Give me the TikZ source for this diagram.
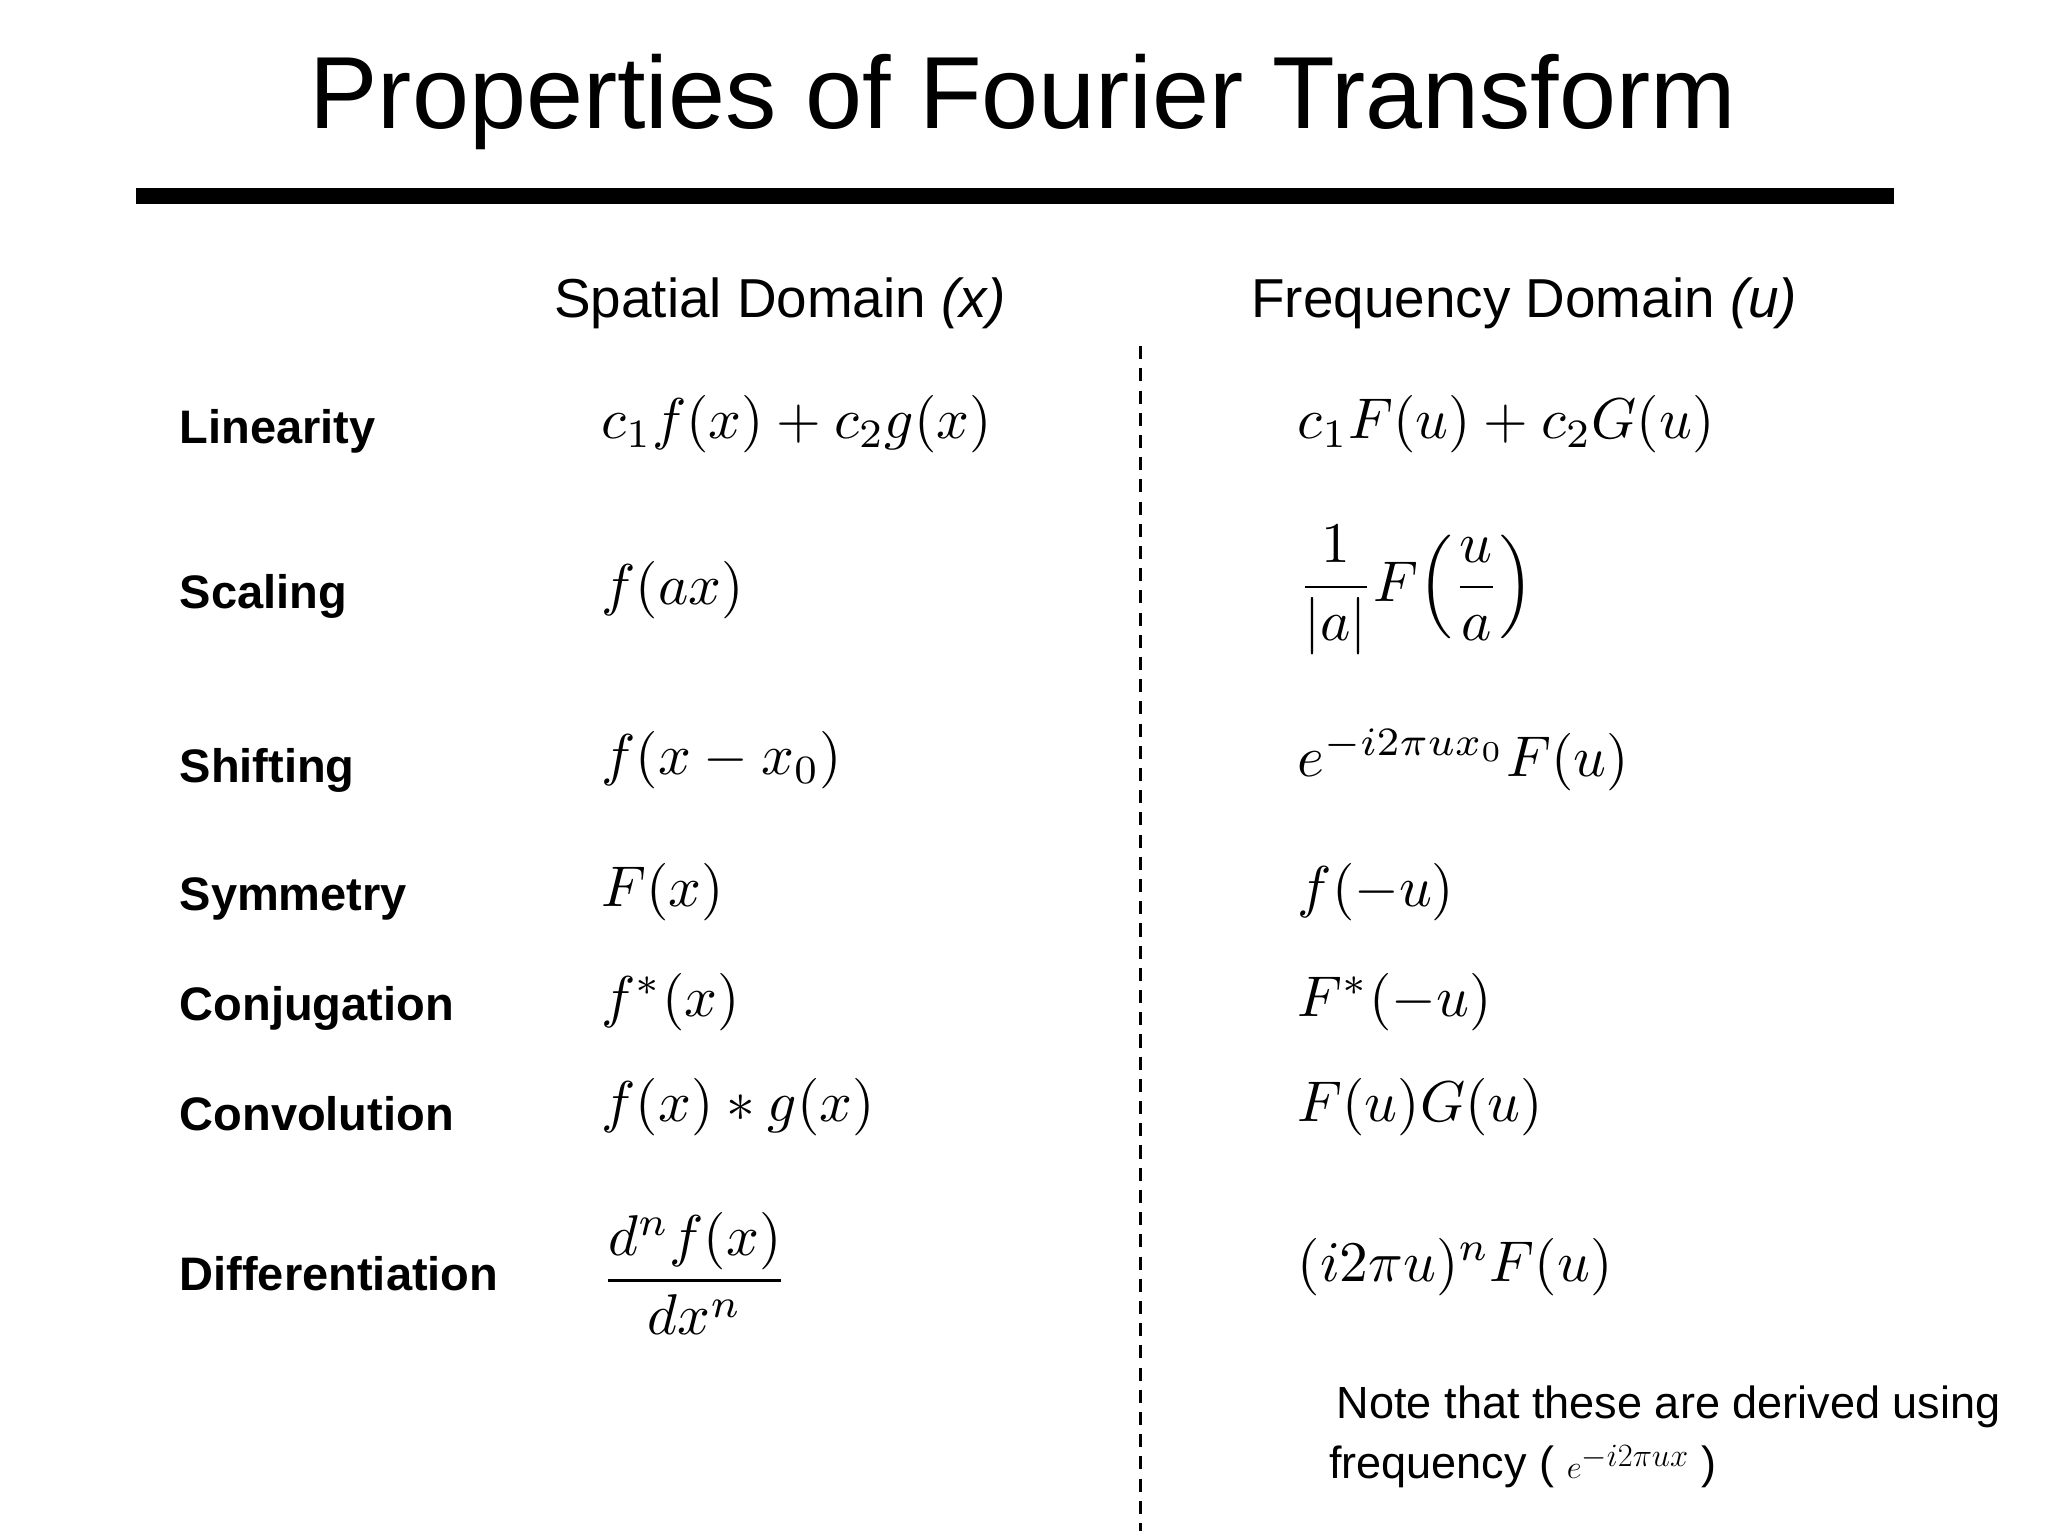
\documentclass[tikz,border=0pt]{standalone}
\usepackage{amsmath}
\usepackage{fontspec}
\setmainfont{Liberation Sans}
\begin{document}
\begin{tikzpicture}[x=1pt,y=-1pt,
  lab/.style={anchor=west,font=\fontsize{36}{44}\selectfont\bfseries},
  hdr/.style={font=\fontsize{42}{50}\selectfont},
  fm/.style={anchor=west,scale=4.4,transform shape,font=\normalsize},
  note/.style={anchor=west,font=\fontsize{34.5}{40}\selectfont}]
\useasboundingbox (0,0) rectangle (1568,1176);
\fill[white] (0,0) rectangle (1568,1176);
\node[font=\fontsize{78.5}{92}\selectfont] (title) at (783,78) {Properties of Fourier Transform};
\coordinate (r1) at (104,150); \coordinate (r2) at (1450,150);
\draw[line width=12pt] (r1) -- (r2);
\node[hdr] (h1) at (597,232) {Spatial Domain \textit{(x)}};
\node[hdr] (h2) at (1167,232) {Frequency Domain \textit{(u)}};
\coordinate (d1) at (873,265); \coordinate (d2) at (873,1172);
\draw[line width=2.5pt,dash pattern=on 10pt off 7pt] (d1) -- (d2);
\node[lab] (l1) at (134,330) {Linearity};
\node[lab] (l2) at (134,457) {Scaling};
\node[lab] (l3) at (134,590) {Shifting};
\node[lab] (l4) at (134,688) {Symmetry};
\node[lab] (l5) at (134,772) {Conjugation};
\node[lab] (l6) at (134,853) {Convolution};
\node[lab] (l7) at (134,975) {Differentiation};
\node[fm] (a1) at (445,325) {$c_1 f(x)+c_2 g(x)$};
\node[fm] (a2) at (445,452) {$f(ax)$};
\node[fm] (a3) at (445,582) {$f(x-x_0)$};
\node[fm] (a4) at (445,683) {$F(x)$};
\node[fm] (a5) at (445,767) {$f^{*}(x)$};
\node[fm] (a6) at (445,848) {$f(x)\ast g(x)$};
\node[fm] (a7) at (445,975) {$\dfrac{d^n f(x)}{dx^n}$};
\node[fm] (b1) at (978,325) {$c_1 F(u)+c_2 G(u)$};
\node[fm] (b2) at (978,452) {$\dfrac{1}{|a|}F\!\left(\dfrac{u}{a}\right)$};
\node[fm] (b3) at (978,582) {$e^{-i2\pi u x_0}F(u)$};
\node[fm] (b4) at (978,683) {$f(-u)$};
\node[fm] (b5) at (978,767) {$F^{*}(-u)$};
\node[fm] (b6) at (978,848) {$F(u)G(u)$};
\node[fm] (b7) at (978,970) {$(i2\pi u)^n F(u)$};
\node[note] (n1) at (1020,1077) {Note that these are derived using};
\node[note] (n2) at (1014,1123) {frequency ( $e^{-i2\pi u x}$ )};
\end{tikzpicture}
\end{document}
